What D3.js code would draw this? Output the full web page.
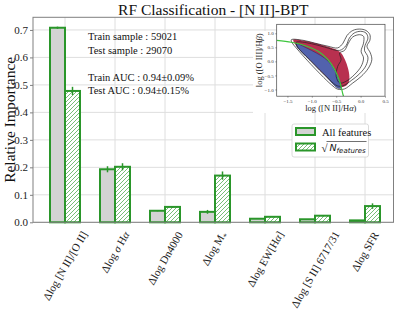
<!DOCTYPE html>
<html>
<head>
<meta charset="utf-8">
<script src="https://cdn.jsdelivr.net/npm/d3@7/dist/d3.min.js"></script>
<style>
  body { margin: 0; background: #fff; }
  svg { display: block; }
</style>
</head>
<body>
<svg id="root" width="399" height="313"></svg>
<script>
// feature importances
const categories = ['Δlog [N II]/[O II]', 'Δlog σ Hα', 'Δlog Dn4000', 'Δlog M*', 'Δlog EW[Hα]', 'Δlog [S II] 6717/31', 'Δlog SFR']
const allImp = [0.708, 0.193, 0.042, 0.038, 0.013, 0.011, 0.007]
const allErr = [0.004, 0.011, 0.002, 0.007, 0.001, 0.001, 0.001]
const sqrtImp = [0.478, 0.202, 0.056, 0.170, 0.020, 0.024, 0.059]
const sqrtErr = [0.015, 0.013, 0.003, 0.015, 0.002, 0.002, 0.010]
const yTicks = [0, 0.1, 0.2, 0.3, 0.4, 0.5, 0.6, 0.7]
const notes = ['Train sample : 59021', 'Test sample : 29070', '', 'Train AUC : 0.94±0.09%', 'Test AUC : 0.94±0.15%']
const legendLabels = ['All features', 'sqrt']

// inset BPT diagram, outlines (log NII/Ha, log OIII/Hb)
const insetXTicks = [-1.5, -1.0, -0.5, 0.0, 0.5]
const insetYTicks = [-1.0, -0.5, 0.0, 0.5, 1.0]
const redRegion = [[-1.38, 0.77], [-1.15, 0.73], [-0.94, 0.65], [-0.74, 0.56], [-0.53, 0.44], [-0.4, 0.3], [-0.32, 0.06], [-0.26, -0.24], [-0.23, -0.54], [-0.25, -0.77], [-0.32, -0.89], [-0.43, -0.92], [-0.53, -0.83], [-0.67, -0.6], [-0.84, -0.3], [-1.01, 0], [-1.18, 0.3], [-1.32, 0.56]]
const blueRegion = [[-1.32, 0.63], [-1.11, 0.48], [-0.91, 0.3], [-0.74, 0.12], [-0.6, -0.12], [-0.5, -0.42], [-0.43, -0.71], [-0.4, -0.95], [-0.47, -0.95], [-0.57, -0.8], [-0.7, -0.54], [-0.87, -0.24], [-1.04, 0.06], [-1.2, 0.32], [-1.3, 0.51]]
const contourOuter = [[-1.42, 0.77], [-1.18, 0.75], [-0.94, 0.65], [-0.67, 0.54], [-0.47, 0.48], [-0.36, 0.65], [-0.28, 0.92], [-0.16, 1.1], [-0.02, 1.15], [0.11, 1.1], [0.19, 0.95], [0.19, 0.75], [0.13, 0.54], [0.2, 0.3], [0.23, 0.06], [0.16, -0.24], [0.01, -0.54], [-0.16, -0.77], [-0.33, -0.98], [-0.47, -0.99], [-0.6, -0.83], [-0.81, -0.48], [-1.01, -0.12], [-1.18, 0.2], [-1.32, 0.48], [-1.4, 0.65]]
const contourMid = [[-1.32, 0.68], [-1.01, 0.63], [-0.74, 0.51], [-0.43, 0.39], [-0.3, 0.56], [-0.23, 0.83], [-0.13, 1.01], [0, 1.07], [0.11, 1.01], [0.15, 0.83], [0.09, 0.56], [0.08, 0.39], [0.15, 0.15], [0.11, -0.15], [-0.02, -0.44], [-0.19, -0.68], [-0.36, -0.87], [-0.48, -0.87], [-0.64, -0.65], [-0.84, -0.32], [-1.04, 0.04], [-1.2, 0.32], [-1.3, 0.54]]
const contourInner = [[-0.43, 0.3], [-0.33, 0.39], [-0.25, 0.65], [-0.16, 0.87], [-0.02, 0.95], [0.06, 0.89], [0.06, 0.65], [0.01, 0.36], [0.06, 0.12], [0.01, -0.18], [-0.13, -0.48], [-0.3, -0.71], [-0.43, -0.77], [-0.5, -0.54], [-0.47, -0.18], [-0.4, 0.06]]
const demarcation = [[-1.72, 0.75], [-1.42, 0.68], [-1.21, 0.6], [-0.87, 0.36], [-0.67, 0.06], [-0.53, -0.3], [-0.43, -0.71], [-0.36, -1.19], [-0.35, -1.24]]

const green = '#2a962a'
const serif = 'Liberation Serif, Times New Roman, serif'
const root = d3.select('#root')

const x = d3.scaleLinear().domain([-0.64, 6.57]).range([33, 393.5])
const y = d3.scaleLinear().domain([0, 0.746]).range([222.3, 17.3])
const barW = 0.3

// hatch pattern
root.append('defs').append('pattern')
  .attr('id', 'hatch')
  .attr('patternUnits', 'userSpaceOnUse')
  .attr('width', 4).attr('height', 4)
  .call(p => {
    p.append('rect').attr('width', 4).attr('height', 4).attr('fill', '#fff')
    p.append('path').attr('d', 'M-1,1 L1,-1 M0,4 L4,0 M3,5 L5,3')
      .attr('stroke', green).attr('stroke-width', 0.8).attr('opacity', 0.8)
  })

// grid
root.append('g').selectAll('line').data(yTicks).enter().append('line')
  .attr('x1', x.range()[0]).attr('x2', x.range()[1])
  .attr('y1', d => y(d)).attr('y2', d => y(d))
  .attr('stroke', '#dedede').attr('stroke-width', 1)
root.append('g').selectAll('line').data(categories).enter().append('line')
  .attr('x1', (d, i) => x(i)).attr('x2', (d, i) => x(i))
  .attr('y1', y.range()[0]).attr('y2', y.range()[1])
  .attr('stroke', '#dedede').attr('stroke-width', 1)

// bars
const idx = d3.range(categories.length)
root.append('g').selectAll('rect').data(idx).enter().append('rect')
  .attr('x', i => x(i - barW)).attr('width', x(barW) - x(0))
  .attr('y', i => y(allImp[i])).attr('height', i => y(0) - y(allImp[i]))
  .attr('fill', '#d3d3d3').attr('stroke', green).attr('stroke-width', 2)
root.append('g').selectAll('rect').data(idx).enter().append('rect')
  .attr('x', i => x(i)).attr('width', x(barW) - x(0))
  .attr('y', i => y(sqrtImp[i])).attr('height', i => y(0) - y(sqrtImp[i]))
  .attr('fill', 'url(#hatch)').attr('stroke', green).attr('stroke-width', 2)

// error bars
function errBars(vals, errs, off) {
  root.append('g').selectAll('line').data(idx).enter().append('line')
    .attr('x1', i => x(i + off)).attr('x2', i => x(i + off))
    .attr('y1', i => y(vals[i] - errs[i])).attr('y2', i => y(vals[i] + errs[i]))
    .attr('stroke', green).attr('stroke-width', 1.5)
}
errBars(allImp, allErr, -barW / 2)
errBars(sqrtImp, sqrtErr, barW / 2)

// spines
root.append('rect')
  .attr('x', x.range()[0]).attr('y', y.range()[1])
  .attr('width', x.range()[1] - x.range()[0]).attr('height', y.range()[0] - y.range()[1])
  .attr('fill', 'none').attr('stroke', '#808080').attr('stroke-width', 1)

// y axis
const yAxis = root.append('g').attr('transform', `translate(${x.range()[0]},0)`)
  .call(d3.axisLeft(y).tickValues(yTicks).tickFormat(d3.format('.1f')).tickSize(3).tickPadding(2))
yAxis.select('.domain').remove()
yAxis.selectAll('line').attr('stroke', '#808080')
yAxis.selectAll('text').attr('font-family', serif).attr('font-size', 11).attr('fill', '#222')

// rich label helper: greek letters italic, * as subscript
function rich(t, str, sub) {
  let runs = []
  for (const ch of str) {
    const style = 'σαβ'.includes(ch) ? 'it' : (ch === '*' ? 'sub' : 'n')
    if (runs.length && runs[runs.length - 1].s === style) runs[runs.length - 1].t += ch
    else runs.push({ t: ch, s: style })
  }
  runs.forEach(r => {
    const ts = t.append('tspan').text(r.t)
    if (r.s === 'it') ts.attr('font-style', 'italic')
    if (r.s === 'sub') ts.attr('font-size', sub).attr('dy', 3)
  })
}

// x tick labels, rotated 60deg, centred on tick
const ang = 60 * Math.PI / 180
idx.forEach(i => {
  const t = root.append('text')
    .attr('font-family', serif).attr('font-size', 11).attr('fill', '#222')
    .attr('text-anchor', 'middle')
  rich(t, categories[i], 8)
  const b = t.node().getBBox()
  const cx = b.x + b.width / 2
  const cy = b.y + b.height / 2
  const hy = (b.width / 2) * Math.sin(ang) + (b.height / 2) * Math.cos(ang)
  t.attr('transform', `translate(${x(i)},${229 + hy}) rotate(-60) translate(${-cx},${-cy})`)
})

// title & y label
root.append('text').attr('x', (x.range()[0] + x.range()[1]) / 2).attr('y', 15)
  .attr('text-anchor', 'middle').attr('font-family', serif).attr('font-size', 15.5)
  .attr('fill', '#111').text('RF Classification - [N II]-BPT')
root.append('text')
  .attr('transform', `translate(15,${(y.range()[0] + y.range()[1]) / 2}) rotate(-90)`)
  .attr('text-anchor', 'middle').attr('font-family', serif).attr('font-size', 15.5)
  .attr('fill', '#111').text('Relative Importance')

// notes
root.append('g').selectAll('text').data(notes).enter().append('text')
  .attr('x', 88).attr('y', (d, i) => 40 + i * 13.5)
  .attr('font-family', serif).attr('font-size', 10.5).attr('fill', '#111')
  .text(d => d)

// inset
const ix = d3.scaleLinear().domain([-1.72, 0.5]).range([276.7, 385])
const iy = d3.scaleLinear().domain([-1.24, 1.32]).range([96.2, 24.3])
const inset = root.append('g')
inset.append('rect').attr('x', 253).attr('y', 31).attr('width', 139.5).attr('height', 82).attr('fill', '#fff')
inset.append('rect').attr('x', ix.range()[0]).attr('y', iy.range()[1])
  .attr('width', ix.range()[1] - ix.range()[0]).attr('height', iy.range()[0] - iy.range()[1])
  .attr('fill', '#fff')
inset.append('clipPath').attr('id', 'iclip').append('rect')
  .attr('x', ix.range()[0]).attr('y', iy.range()[1])
  .attr('width', ix.range()[1] - ix.range()[0]).attr('height', iy.range()[0] - iy.range()[1])
const area = d3.line().x(d => ix(d[0])).y(d => iy(d[1])).curve(d3.curveCatmullRomClosed)
const open = d3.line().x(d => ix(d[0])).y(d => iy(d[1])).curve(d3.curveCatmullRom)
const ig = inset.append('g').attr('clip-path', 'url(#iclip)')
ig.append('path').attr('d', area(redRegion)).attr('fill', '#b8304f')
ig.append('path').attr('d', area(blueRegion)).attr('fill', '#5262ad').attr('stroke', '#2a3060').attr('stroke-width', 0.6)
;[contourOuter, contourMid, contourInner].forEach(c => {
  ig.append('path').attr('d', area(c)).attr('fill', 'none').attr('stroke', '#222').attr('stroke-width', 0.7)
})
ig.append('path').attr('d', open(demarcation)).attr('fill', 'none').attr('stroke', '#3ec63e').attr('stroke-width', 1.2)
inset.append('rect').attr('x', ix.range()[0]).attr('y', iy.range()[1])
  .attr('width', ix.range()[1] - ix.range()[0]).attr('height', iy.range()[0] - iy.range()[1])
  .attr('fill', 'none').attr('stroke', '#444').attr('stroke-width', 0.7)
const ixa = inset.append('g').attr('transform', `translate(0,${iy.range()[0]})`)
  .call(d3.axisBottom(ix).tickValues(insetXTicks).tickFormat(d3.format('.1f')).tickSize(1.5).tickPadding(1.5))
const iya = inset.append('g').attr('transform', `translate(${ix.range()[0]},0)`)
  .call(d3.axisLeft(iy).tickValues(insetYTicks).tickFormat(d3.format('.1f')).tickSize(1.5).tickPadding(1.5))
;[ixa, iya].forEach(a => {
  a.select('.domain').remove()
  a.selectAll('line').attr('stroke', '#444').attr('stroke-width', 0.5)
  a.selectAll('text').attr('font-family', serif).attr('font-size', 5).attr('fill', '#333')
})
const ixl = inset.append('text').attr('x', (ix.range()[0] + ix.range()[1]) / 2).attr('y', 110.5)
  .attr('text-anchor', 'middle').attr('font-family', serif).attr('font-size', 8.5).attr('fill', '#222')
rich(ixl, 'log ([N II]/Hα)', 7)
const iyl = inset.append('text')
  .attr('transform', `translate(262,${(iy.range()[0] + iy.range()[1]) / 2}) rotate(-90)`)
  .attr('text-anchor', 'middle').attr('font-family', serif).attr('font-size', 8.5).attr('fill', '#222')
rich(iyl, 'log ([O III]/Hβ)', 7)

// legend
const lg = root.append('g')
lg.append('rect').attr('x', 292).attr('y', 124).attr('width', 76.5).attr('height', 33)
  .attr('rx', 2).attr('fill', '#fff').attr('stroke', '#d0d0d0').attr('stroke-width', 0.8)
lg.append('rect').attr('x', 296).attr('y', 128).attr('width', 19).attr('height', 7)
  .attr('fill', '#d3d3d3').attr('stroke', green).attr('stroke-width', 2)
lg.append('rect').attr('x', 296).attr('y', 143.5).attr('width', 19).attr('height', 7)
  .attr('fill', 'url(#hatch)').attr('stroke', green).attr('stroke-width', 2)
lg.append('text').attr('x', 322).attr('y', 135.5)
  .attr('font-family', serif).attr('font-size', 10.5).attr('fill', '#111').text(legendLabels[0])
lg.append('text').attr('x', 321.5).attr('y', 151.5)
  .attr('font-family', serif).attr('font-size', 11).attr('fill', '#111').text('√')
const nf = lg.append('text').attr('x', 329.5).attr('y', 151)
  .attr('font-family', 'DejaVu Sans, sans-serif').attr('font-style', 'italic').attr('fill', '#111')
nf.append('tspan').attr('font-size', 9.5).text('N')
nf.append('tspan').attr('font-size', 7).attr('dy', 1.8).text('features')
const nb = nf.node().getBBox()
lg.append('line').attr('x1', 326.5).attr('x2', nb.x + nb.width + 0.5)
  .attr('y1', 141.5).attr('y2', 141.5).attr('stroke', '#111').attr('stroke-width', 0.6)
</script>
</body>
</html>
